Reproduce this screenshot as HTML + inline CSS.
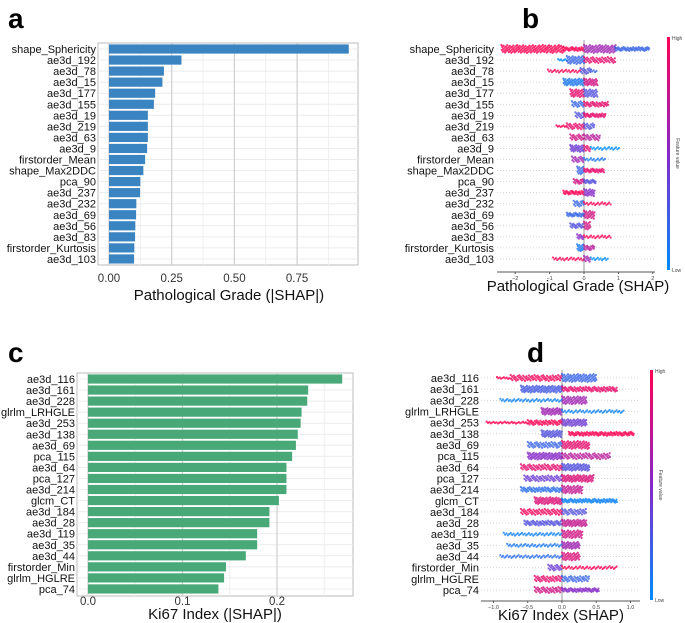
<!DOCTYPE html>
<html><head><meta charset="utf-8"><style>
html,body{margin:0;padding:0;background:#fff;}
svg{display:block;font-family:"Liberation Sans",sans-serif;}
</style></head><body>
<svg id="fig" width="685" height="623" viewBox="0 0 685 623">
<text x="8" y="28" font-size="28" font-weight="bold">a</text>
<text x="522" y="28" font-size="28" font-weight="bold">b</text>
<text x="8" y="362" font-size="28" font-weight="bold">c</text>
<text x="527" y="362" font-size="28" font-weight="bold">d</text>
</svg>
<script>
const NS="http://www.w3.org/2000/svg";
const svg=document.getElementById('fig');
function mk(tag,attrs,parent){const e=document.createElementNS(NS,tag);for(const k in attrs)e.setAttribute(k,attrs[k]);(parent||svg).appendChild(e);return e;}

// ---- Panel a data ----
const aFeatures=["shape_Sphericity","ae3d_192","ae3d_78","ae3d_15","ae3d_177","ae3d_155","ae3d_19","ae3d_219","ae3d_63","ae3d_9","firstorder_Mean","shape_Max2DDC","pca_90","ae3d_237","ae3d_232","ae3d_69","ae3d_56","ae3d_83","firstorder_Kurtosis","ae3d_103"];
const aValues=[0.956,0.289,0.219,0.213,0.184,0.179,0.155,0.155,0.155,0.152,0.144,0.137,0.125,0.124,0.109,0.108,0.105,0.104,0.101,0.100];
const aTicks=[0,0.25,0.5,0.75];
const aTickLabels=["0.00","0.25","0.50","0.75"];
// ---- Panel c data ----
const cFeatures=["ae3d_116","ae3d_161","ae3d_228","glrlm_LRHGLE","ae3d_253","ae3d_138","ae3d_69","pca_115","ae3d_64","pca_127","ae3d_214","glcm_CT","ae3d_184","ae3d_28","ae3d_119","ae3d_35","ae3d_44","firstorder_Min","glrlm_HGLRE","pca_74"];
const cValues=[0.269,0.233,0.232,0.226,0.225,0.222,0.220,0.216,0.210,0.210,0.210,0.202,0.192,0.192,0.179,0.179,0.167,0.146,0.144,0.138];
const cTicks=[0,0.1,0.2];
const cTickLabels=["0.0","0.1","0.2"];
// ---- Panel b data: segments [lo, hi, colour(0 low..1 high), half-height] ----
const bTicks=[-2,-1,0,1,2];
const bTickLabels=["−2","−1","0","1","2"];
const bSegments=[
[[-2.4,-0.6,1,4],[-0.6,0,1,2],[0,0.9,0.6,4],[0.9,1.9,0.2,2]],
[[-0.75,-0.5,0,1],[-0.5,0,0.2,4],[0,0.9,0.9,3]],
[[-1.05,-0.1,1,1.5],[-0.1,0.2,0.3,3],[0.2,0.4,0.2,1.5]],
[[-0.6,0,0.1,3.5],[0,0.4,0.8,3.5]],
[[-0.4,0,0.9,4],[0,0.4,0.3,4]],
[[-0.35,0,0.2,3],[0,0.7,0.9,2.5]],
[[-0.25,0,0.3,3],[0,0.65,0.9,2]],
[[-0.8,-0.5,1,1],[-0.5,0,0.9,3],[0,0.3,0.3,3]],
[[-0.4,0,0.8,3],[0,0.45,0.7,3]],
[[-0.4,0,0.4,3.5],[0,0.2,0.9,3],[0.2,1.05,0,1.5]],
[[-0.35,0,0.6,3],[0,0.65,0.1,1.5]],
[[-0.2,0,0.2,4],[0,0.6,0.9,2]],
[[-0.3,0,0.8,2.5],[0,0.35,0.3,2]],
[[-0.6,0,1,2],[0,0.3,0.5,3.5]],
[[-0.3,0,0.2,3],[0,0.8,1,1.5]],
[[-0.5,0,0.2,2],[0,0.3,0.8,4]],
[[-0.4,0,0.3,2.5],[0,0.2,0.8,4]],
[[-0.2,0,0.5,2.5],[0,0.8,1,1.5]],
[[-0.2,0,0.1,3.5],[0,0.3,0.7,2.5]],
[[-0.9,0,1,1.5],[0,0.2,0.6,3],[0.2,0.7,0,1.5]]
];
// ---- Panel d data ----
const dTicks=[-1,-0.5,0,0.5,1];
const dTickLabels=["−1.0","−0.5","0.0","0.5","1.0"];
const dSegments=[
[[-0.95,-0.75,1,1],[-0.75,0,0.95,3],[0,0.5,0.2,4]],
[[-0.6,0,0.25,3.5],[0,0.8,0.9,2.5]],
[[-0.9,0,0.05,1.5],[0,0.35,0.6,4]],
[[-0.3,0,0.6,3.5],[0,0.9,0.05,1.5]],
[[-1.1,-0.5,1,1],[-0.5,0,1,2.5],[0,0.35,0.4,3.5]],
[[-0.3,0,0.3,3.5],[0.1,1.05,1,2]],
[[-0.5,0,0.2,3],[0,0.4,0.9,4]],
[[-0.5,0,0.5,3.5],[0,0.7,0.7,3]],
[[-0.6,0,0.9,3],[0,0.4,0.3,3.5]],
[[-0.55,0,0.4,3],[0,0.45,0.85,3.5]],
[[-0.6,0,0.15,2.5],[0,0.3,0.75,4]],
[[-0.4,0,0.85,3.5],[0,0.8,0.05,2]],
[[-0.6,0,0.95,3],[0,0.35,0.3,3]],
[[-0.55,0,0.3,2.5],[0,0.35,0.75,3.5]],
[[-0.85,0,0.05,1.5],[0,0.3,0.8,4]],
[[-0.8,0,0.1,1.5],[0,0.25,0.6,3.5]],
[[-0.9,0,0.15,1.5],[0,0.25,0.85,4]],
[[-0.2,0,0.4,3],[0,0.8,1,1.5]],
[[-0.4,0,0.9,3],[0,0.4,0.2,3]],
[[-0.4,0,0.8,3],[0,0.55,0.5,2]]
];

function barPanel(o){
  const g=mk('g',{});
  
  
  const x=v=>o.x0+(v-o.t0)*o.k;
  const y=i=>o.yTop+i*o.step;
  mk('rect',{x:o.fl,y:o.ft,width:o.fr-o.fl,height:o.fb-o.ft,fill:'#fff',stroke:'#bbb','stroke-width':1},g);
  for(let i=0;i<o.ticks.length;i++){const v=o.ticks[i]+o.minor;const xx=x(v);if(xx<o.fr)mk('line',{x1:xx,x2:xx,y1:o.ft,y2:o.fb,stroke:'#efefef'},g);}
  mk('line',{x1:x(o.ticks[0]-o.minor),x2:x(o.ticks[0]-o.minor),y1:o.ft,y2:o.fb,stroke:'#efefef'},g);
  for(let i=0;i<o.feats.length;i++){mk('line',{x1:o.fl,x2:o.fr,y1:y(i),y2:y(i),stroke:'#ececec'},g);}
  o.ticks.forEach((t,i)=>{
    mk('line',{x1:x(t),x2:x(t),y1:o.ft,y2:o.fb,stroke:'#cfcfcf','stroke-width':1.2},g);
    const tl=mk('text',{x:x(t),y:o.tickY,'font-size':11.5,'text-anchor':'middle',fill:'#333'},g);
    tl.textContent=o.tickLabels[i];
    
    
  });
  o.feats.forEach((f,i)=>{
    const r=mk('rect',{x:x(0),y:y(i)-o.bh/2,width:x(o.vals[i])-x(0),height:o.bh,fill:o.color},g);
    
    
    const t=mk('text',{x:o.fl-2,y:y(i)+4,'font-size':11,'text-anchor':'end',fill:'#111'},g);
    t.textContent=f;
    
    
  });
  const tt=mk('text',{x:o.titleX,y:o.titleY,'font-size':15,'text-anchor':'middle',fill:'#111'},g);
  tt.textContent=o.title;
  
  
}
barPanel({name:'panel-a-bar-chart',feats:aFeatures,vals:aValues,ticks:aTicks,tickLabels:aTickLabels,minor:0.125,
 x0:109,t0:0,k:62.7/0.25,yTop:49,step:11.05,bh:9.2,fl:98,fr:358,ft:43,fb:265,tickY:282,color:'#3a84c1',
 title:'Pathological Grade (|SHAP|)',titleX:229,titleY:300});
barPanel({name:'panel-c-bar-chart',feats:cFeatures,vals:cValues,ticks:cTicks,tickLabels:cTickLabels,minor:0.05,
 x0:88,t0:0,k:94.5/0.1,yTop:379,step:11.05,bh:9.2,fl:77,fr:353,ft:373,fb:596,tickY:605,color:'#48a878',
 title:'Ki67 Index (|SHAP|)',titleX:215,titleY:619});

function col(c){
  const a=[0,139,251],m=[134,40,200],b=[255,0,82];
  let r,g,bl;
  if(c<0.5){const t=c/0.5;r=a[0]+(m[0]-a[0])*t;g=a[1]+(m[1]-a[1])*t;bl=a[2]+(m[2]-a[2])*t;}
  else{const t=(c-0.5)/0.5;r=m[0]+(b[0]-m[0])*t;g=m[1]+(b[1]-m[1])*t;bl=m[2]+(b[2]-m[2])*t;}
  return `rgb(${r|0},${g|0},${bl|0})`;
}
function swarmPanel(o){
  const g=mk('g',{});
  
  
  const x=v=>o.x0+v*o.k;
  const y=i=>o.yTop+i*o.step;
  o.feats.forEach((f,i)=>{
    mk('line',{x1:o.al,x2:o.ar,y1:y(i),y2:y(i),stroke:'#ccc','stroke-dasharray':'1,2','stroke-width':0.8},g);
  });
  mk('line',{x1:x(0),x2:x(0),y1:o.zTop,y2:o.axY,stroke:'#999','stroke-width':1},g);
  o.feats.forEach((f,i)=>{
    const row=mk('g',{},g);
    
    
    o.segs[i].forEach(s=>{
      const x1=x(s[0]),x2=x(s[1]);let n=0;
      const reps=Math.max(1,Math.round(s[3]*0.8));
      for(let xx=x1;xx<=x2;xx+=1.4){
        for(let r=0;r<reps;r++){
          const q=((n*reps+r)*0.61803)%1;
          const off=(q*2-1)*s[3];
          mk('circle',{cx:xx+((r*0.37)%1),cy:y(i)+off,r:1.1,fill:col(s[2]),'fill-opacity':0.8},row);
        }
        n++;
      }
    });
    const t=mk('text',{x:o.labX,y:y(i)+4,'font-size':11,'text-anchor':'end',fill:'#111'},g);
    t.textContent=f;
    
    
  });
  mk('line',{x1:o.al,x2:o.ar,y1:o.axY,y2:o.axY,stroke:'#555','stroke-width':1},g);
  o.ticks.forEach((t,i)=>{
    mk('line',{x1:x(t),x2:x(t),y1:o.axY,y2:o.axY+2,stroke:'#555'},g);
    const tl=mk('text',{x:x(t),y:o.axY+8,'font-size':5.5,'text-anchor':'middle',fill:'#444'},g);
    tl.textContent=o.tickLabels[i];
    
    
  });
  const tt=mk('text',{x:o.titleX,y:o.titleY,'font-size':15,'text-anchor':'middle',fill:'#111'},g);
  tt.textContent=o.title;
  
  
  const gid='grad-'+o.name;
  const defs=mk('defs',{},g);
  const lg=mk('linearGradient',{id:gid,x1:0,y1:1,x2:0,y2:0},defs);
  [0,0.5,1].forEach(c=>mk('stop',{offset:c,'stop-color':col(c)},lg));
  const cb=mk('rect',{x:o.cbX,y:o.cbT,width:3,height:o.cbB-o.cbT,fill:`url(#${gid})`},g);
  
  
  const hi=mk('text',{x:o.cbX+5,y:o.cbT+3,'font-size':5,fill:'#444'},g);hi.textContent='High';
  
  
  const lo=mk('text',{x:o.cbX+5,y:o.cbB+2,'font-size':5,fill:'#444'},g);lo.textContent='Low';
  
  
  const my=(o.cbT+o.cbB)/2;
  const fv=mk('text',{x:o.cbX+9,y:my,'font-size':5,fill:'#444','text-anchor':'middle',transform:`rotate(90 ${o.cbX+9} ${my})`},g);
  fv.textContent='Feature value';
  
  
}
swarmPanel({name:'panel-b-beeswarm',feats:aFeatures,segs:bSegments,ticks:bTicks,tickLabels:bTickLabels,
 x0:584,k:34.4,yTop:49,step:11.05,al:497,ar:655,axY:272,zTop:40,labX:494,
 title:'Pathological Grade (SHAP)',titleX:578,titleY:291,cbX:667,cbT:37,cbB:270});
swarmPanel({name:'panel-d-beeswarm',feats:cFeatures,segs:dSegments,ticks:dTicks,tickLabels:dTickLabels,
 x0:562,k:68.5,yTop:378,step:11.16,al:481,ar:640,axY:601,zTop:370,labX:479,
 title:'Ki67 Index (SHAP)',titleX:561,titleY:620,cbX:650,cbT:370,cbB:600});
</script>
</body></html>
